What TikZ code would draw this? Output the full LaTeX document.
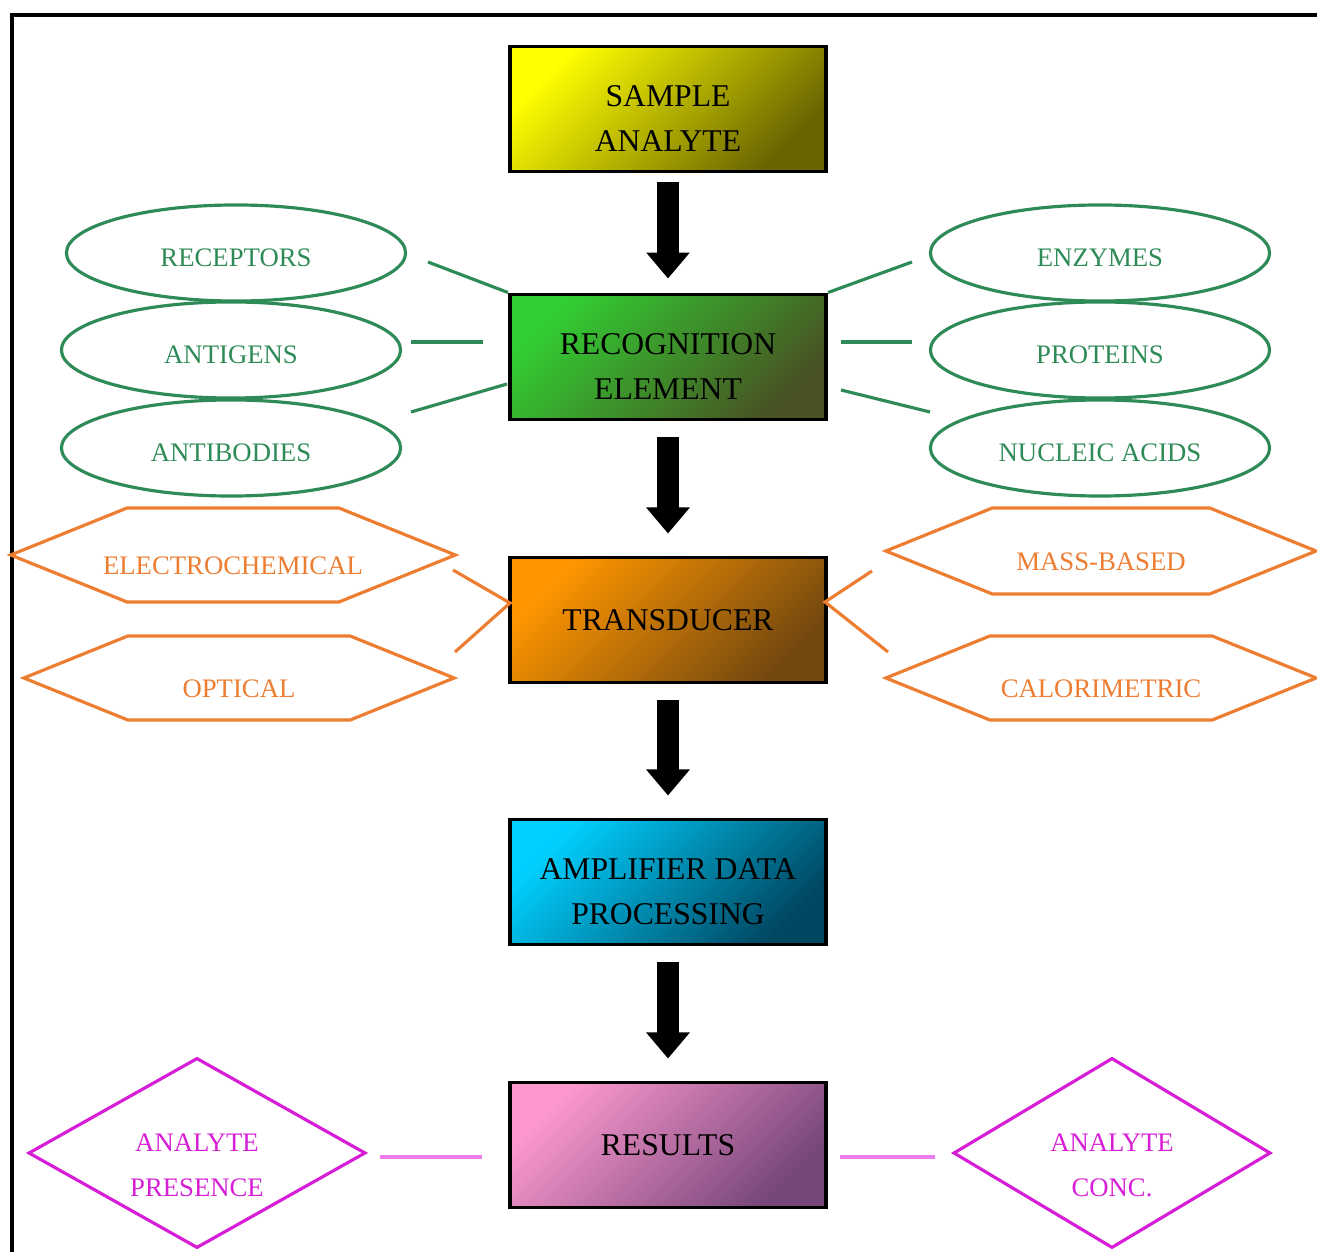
\documentclass[tikz,border=0pt]{standalone}
\usepackage{fontspec}
\setmainfont{Liberation Serif}
\usetikzlibrary{shapes.geometric,shapes.symbols,arrows.meta,positioning,calc}

\definecolor{recgreen}{RGB}{46,139,87}
\definecolor{trorange}{RGB}{237,125,49}
\definecolor{resmag}{RGB}{214,30,214}
\definecolor{reslink}{RGB}{238,125,238}
\definecolor{sampA}{RGB}{255,255,0}
\definecolor{sampB}{RGB}{105,100,0}
\definecolor{recoA}{RGB}{50,205,50}
\definecolor{recoB}{RGB}{72,82,35}
\definecolor{tranA}{RGB}{255,150,0}
\definecolor{tranB}{RGB}{115,72,15}
\definecolor{ampA}{RGB}{0,208,255}
\definecolor{ampB}{RGB}{0,72,98}
\definecolor{resA}{RGB}{252,152,205}
\definecolor{resB}{RGB}{118,70,122}

\begin{document}
\begin{tikzpicture}[x=0.01cm, y=-0.01cm,
    mainbox/.style={draw=black, line width=1.1pt, minimum width=3.16cm, minimum height=1.25cm,
      align=center, font=\fontsize{9}{12.6}\selectfont},
    twoline/.style={text height=0.84cm, text depth=0pt},
    boxfill/.style 2 args={top color=#1, bottom color=#2, shading angle=45},
    fatarrow/.style={line width=0.21cm, -{Triangle[width=0.42cm,length=0.26cm]},
      shorten <=0.16cm, shorten >=0.22cm},
    recbubble/.style={ellipse, draw=recgreen, line width=0.9pt, text=recgreen, inner sep=0pt,
      minimum width=3.39cm, minimum height=0.96cm, text height=0.27cm, text depth=0pt,
      font=\fontsize{7.6}{9}\selectfont},
    sensehex/.style={signal, signal to=west and east, signal pointer angle=44, draw=trorange,
      line width=0.9pt, text=trorange, inner sep=0pt, minimum width=4.3cm, minimum height=0.86cm,
      text height=0.39cm, text depth=0pt, font=\fontsize{7.6}{9}\selectfont},
    outdiam/.style={diamond, aspect=1.8, draw=resmag, line width=0.9pt, text=resmag, inner sep=0pt,
      minimum width=3.37cm, minimum height=1.9cm, align=center, text height=0.87cm, text depth=0pt,
      font=\fontsize{7.6}{12.8}\selectfont},
    reclink/.style={draw=recgreen, line width=0.9pt},
    tranlink/.style={draw=trorange, line width=0.9pt},
    outlink/.style={draw=reslink, line width=0.9pt}]
  \useasboundingbox (0,0) rectangle (1317,1252);
  % frame
  \draw[line width=1.4pt] (12,1300) -- (12,15) -- (1340,15);

  % main chain
  \node[mainbox, twoline, boxfill={sampA}{sampB}] (sample) at (668,109) {SAMPLE\\ANALYTE};
  \node[mainbox, twoline, boxfill={recoA}{recoB}] (recog) at (668,357) {RECOGNITION\\ELEMENT};
  \node[mainbox, boxfill={tranA}{tranB}] (trans) at (668,620) {TRANSDUCER};
  \node[mainbox, twoline, boxfill={ampA}{ampB}] (ampl) at (668,882) {AMPLIFIER DATA\\PROCESSING};
  \node[mainbox, boxfill={resA}{resB}] (result) at (668,1145) {RESULTS};

  \draw[fatarrow, shorten <=0.09cm, shorten >=0.14cm] (sample) -- (recog);
  \draw[fatarrow] (recog) -- (trans);
  \draw[fatarrow] (trans) -- (ampl);
  \draw[fatarrow] (ampl) -- (result);

  % recognition elements
  \node[recbubble] (rcpt) at (236,253) {RECEPTORS};
  \node[recbubble] (antg) at (231,350) {ANTIGENS};
  \node[recbubble] (antb) at (231,448) {ANTIBODIES};
  \node[recbubble] (enzy) at (1100,253) {ENZYMES};
  \node[recbubble] (prot) at (1100,350) {PROTEINS};
  \node[recbubble] (nucl) at (1100,448) {NUCLEIC ACIDS};

  \coordinate (rcptE) at (428,262);
  \coordinate (antgE) at (411,342);
  \coordinate (antgR) at (483,342);
  \coordinate (antbE) at (411,412);
  \coordinate (antbR) at (507,384);
  \coordinate (enzyW) at (912,262);
  \coordinate (protL) at (841,342);
  \coordinate (protW) at (912,342);
  \coordinate (nuclL) at (841,390);
  \coordinate (nuclW) at (930,412);
  \draw[reclink] (rcptE) -- (recog.north west);
  \draw[reclink] (antgE) -- (antgR);
  \draw[reclink] (antbE) -- (antbR);
  \draw[reclink] (recog.north east) -- (enzyW);
  \draw[reclink] (protL) -- (protW);
  \draw[reclink] (nuclL) -- (nuclW);

  % transducer types
  \node[sensehex, inner xsep=-0.24cm, minimum width=4.4cm, minimum height=0.94cm] (elec) at (233,555) {ELECTROCHEMICAL};
  \node[sensehex, minimum height=0.84cm] (optc) at (239,678) {OPTICAL};
  \node[sensehex] (mass) at (1101,551) {MASS-BASED};
  \node[sensehex, minimum height=0.84cm] (calo) at (1101,678) {CALORIMETRIC};

  \coordinate (tranL) at (510,603);
  \coordinate (tranR) at (825,602);
  \coordinate (elecE) at (453,570);
  \coordinate (optcE) at (455,652);
  \coordinate (massW) at (872,571);
  \coordinate (caloW) at (888,652);
  \draw[tranlink] (elecE) -- (tranL) -- (optcE);
  \draw[tranlink] (massW) -- (tranR) -- (caloW);

  % outputs
  \node[outdiam] (pres) at (197,1153) {ANALYTE\\PRESENCE};
  \node[outdiam, minimum width=3.17cm] (conc) at (1112,1153) {ANALYTE\\CONC.};

  \coordinate (presE) at (380,1157);
  \coordinate (resL) at (482,1157);
  \coordinate (resR) at (840,1157);
  \coordinate (concW) at (935,1157);
  \draw[outlink] (presE) -- (resL);
  \draw[outlink] (resR) -- (concW);
\end{tikzpicture}
\end{document}
